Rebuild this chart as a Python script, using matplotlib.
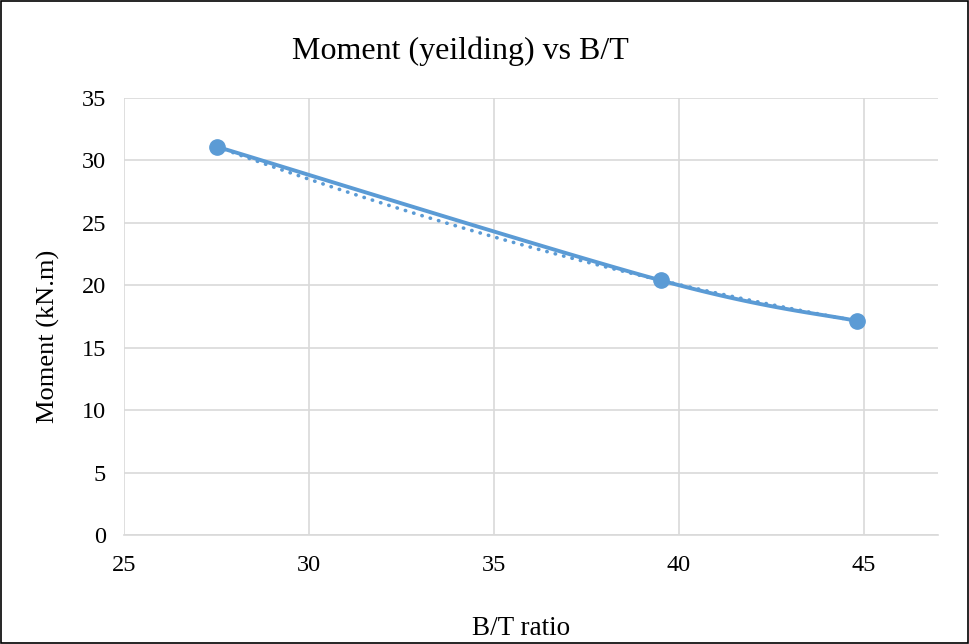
import numpy as np
import matplotlib.pyplot as plt
from matplotlib.patches import Rectangle

# data
bt_ratio = [27.5, 39.5, 44.8]
moment = [31.1, 20.4, 17.15]

x_ticks = [25, 30, 35, 40, 45]
y_ticks = [0, 5, 10, 15, 20, 25, 30, 35]

blue = '#5B9BD5'
grid_col = '#D9D9D9'

plt.rcParams['font.family'] = ['Liberation Serif', 'DejaVu Serif']


def smooth_line(x, y, n=60, tension=0.5):
    # Excel-like smoothed line (cardinal spline through the points)
    x = np.asarray(x, float)
    y = np.asarray(y, float)
    px = np.concatenate([[x[0]], x, [x[-1]]])
    py = np.concatenate([[y[0]], y, [y[-1]]])
    xs, ys = [], []
    for i in range(1, len(px) - 2):
        t = np.linspace(0, 1, n)
        m1x = tension * (px[i + 1] - px[i - 1])
        m1y = tension * (py[i + 1] - py[i - 1])
        m2x = tension * (px[i + 2] - px[i])
        m2y = tension * (py[i + 2] - py[i])
        h00 = 2 * t**3 - 3 * t**2 + 1
        h10 = t**3 - 2 * t**2 + t
        h01 = -2 * t**3 + 3 * t**2
        h11 = t**3 - t**2
        xs.append(h00 * px[i] + h10 * m1x + h01 * px[i + 1] + h11 * m2x)
        ys.append(h00 * py[i] + h10 * m1y + h01 * py[i + 1] + h11 * m2y)
    return np.concatenate(xs), np.concatenate(ys)


fig = plt.figure(figsize=(9.69, 6.44), dpi=100)
ax = fig.add_axes([0.128, 0.169, 0.840, 0.679])

# polynomial trendline (dotted)
coef = np.polyfit(bt_ratio, moment, 2)
xt = np.linspace(min(bt_ratio), max(bt_ratio), 200)
ax.plot(xt, np.polyval(coef, xt), color=blue, lw=2.6, ls=(0, (0.1, 2.3)),
        dash_capstyle='round', zorder=3)

sx, sy = smooth_line(bt_ratio, moment)
ax.plot(sx, sy, color=blue, lw=2.8, zorder=4)
ax.plot(bt_ratio, moment, 'o', color=blue, ms=11, zorder=5)

ax.set_xlim(25, 47)
ax.set_ylim(0, 35)
ax.set_xticks(x_ticks)
ax.set_yticks(y_ticks)
ax.grid(True, color=grid_col, lw=1.2)
ax.set_axisbelow(True)
for s in ['top', 'right', 'left']:
    ax.spines[s].set_visible(False)
ax.spines['bottom'].set_color(grid_col)
ax.spines['bottom'].set_linewidth(1.2)
ax.tick_params(length=0, labelsize=17.5, colors='black')
ax.tick_params(axis='y', pad=13)
ax.tick_params(axis='x', pad=14)

fig.text(460 / 969, 1 - 59 / 644, 'Moment (yeilding) vs B/T', fontsize=23,
         ha='center', va='baseline')
fig.text(521 / 969, 9 / 644, 'B/T ratio', fontsize=19.5,
         ha='center', va='baseline')
fig.text(48 / 969, 1 - 336 / 644, 'Moment (kN.m)', fontsize=19, rotation=90,
         ha='center', va='center')

fig.patches.append(Rectangle((0.001, 0.001), 0.998, 0.997, transform=fig.transFigure,
                             fill=False, edgecolor='black', lw=1.2))

fig.savefig('out.png', dpi=100)
